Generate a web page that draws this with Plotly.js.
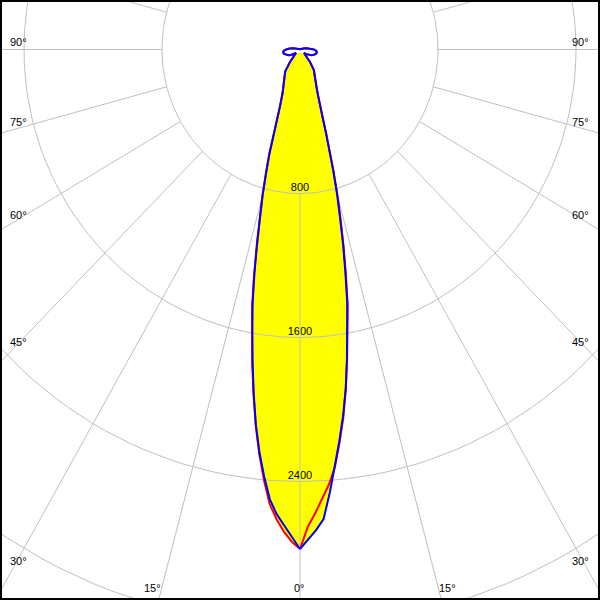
<!DOCTYPE html>
<html><head><meta charset="utf-8">
<script src="https://cdn.plot.ly/plotly-3.0.1.min.js"></script>
<style>html,body{margin:0;padding:0;background:#fff;}#chart{width:600px;height:600px;}</style>
</head><body><div id="chart"></div>
<script>
// ---- data (intensity in cd, gamma in degrees) ----
const gamma = [0,1,2,3,4,5,6,7,8,9,10,11,12,13,14,15,16,17,18,19,20,22.5,25,27.5,30,35,40,45,50,55,60,65,70,75,80,85,90,95,100,105,110,120,135,150,165,180];
// red curve (C0 right half / C180 left half)
const redC0   = [2775,2650,2575,2490,2420,2327,2195,2060,1905,1745,1595,1450,1280,1125,970,840,705,590,490,410,345,270,225,195,175,140,90,45,30,45,60,74,85,95,99,95,80,60,40,20,8,2,0,0,0,0];
const redC180 = [2775,2735,2680,2612,2530,2400,2260,2105,1935,1770,1608,1455,1282,1113,957,838,714,610,490,405,345,265,230,200,180,150,90,45,30,45,60,74,85,95,99,95,80,60,40,20,8,2,0,0,0,0];
// blue curve (C90 right half / C270 left half)
const blueC90  = [2775,2725,2672,2612,2470,2320,2185,2050,1905,1740,1580,1435,1265,1110,957,830,700,590,490,410,345,270,225,195,175,140,90,45,30,45,60,74,85,95,99,95,80,60,40,20,8,2,0,0,0,0];
const blueC270 = [2775,2705,2645,2585,2505,2382,2250,2100,1930,1757,1593,1440,1270,1113,957,838,714,610,490,405,345,265,230,200,180,150,90,45,30,45,60,74,85,95,99,95,80,60,40,20,8,2,0,0,0,0];
const gridRadii = [800,1600,2400,3200];
const gridAngles = [0,15,30,45,60,75,90,105,120,135,150,165,180,195,210,225,240,255,270,285,300,315,330,345];
const radialLabels = ['800','1600','2400'];
const angleLabels = ['90°','75°','60°','45°','30°','15°','0°','15°','30°','45°','60°','75°','90°'];

// ---- geometry helpers ----
const D = Math.PI/180;
function curve(right, left, maxG) {
  const xs = [], ys = [];
  for (let i = 0; i < gamma.length; i++) {
    if (gamma[i] > maxG) break;
    xs.push(right[i]*Math.sin(gamma[i]*D)); ys.push(-right[i]*Math.cos(gamma[i]*D));
  }
  for (let i = gamma.length-1; i >= 0; i--) {
    if (gamma[i] > maxG) continue;
    xs.push(-left[i]*Math.sin(gamma[i]*D)); ys.push(-left[i]*Math.cos(gamma[i]*D));
  }
  return {x: xs, y: ys};
}
const maxR = redC0.map((v,i)=>Math.max(v, blueC90[i]));
const maxL = redC180.map((v,i)=>Math.max(v, blueC270[i]));
const fillPath = curve(maxR, maxL, 50);
const redPath = curve(redC0, redC180, 180);
const bluePath = curve(blueC90, blueC270, 180);

const gx = [], gy = [];
gridRadii.forEach(r => {
  for (let a = 0; a <= 360; a += 2) { gx.push(r*Math.sin(a*D)); gy.push(-r*Math.cos(a*D)); }
  gx.push(null); gy.push(null);
});
gridAngles.forEach(a => {
  gx.push(gridRadii[0]*Math.sin(a*D), 5000*Math.sin(a*D), null);
  gy.push(-gridRadii[0]*Math.cos(a*D), -5000*Math.cos(a*D), null);
});

const font = {family: 'Liberation Sans, Arial, sans-serif', size: 11, color: '#000'};

const traces = [
  {x: fillPath.x, y: fillPath.y, mode: 'lines', fill: 'toself', fillcolor: '#ffff00', line: {width: 0, color: '#ffff00'}, hoverinfo: 'skip'},
  {x: radialLabels.map(()=>0), y: gridRadii.slice(0,3).map(r=>-r), mode: 'text', text: radialLabels, textposition: 'top center', textfont: font, hoverinfo: 'skip'},
  {x: gx, y: gy, mode: 'lines', line: {color: '#c0c0c0', width: 1}, hoverinfo: 'skip'},
  {x: redPath.x, y: redPath.y, mode: 'lines', line: {color: '#ff0000', width: 2}, hoverinfo: 'skip'},
  {x: bluePath.x, y: bluePath.y, mode: 'lines', line: {color: '#0000ff', width: 2}, hoverinfo: 'skip'}
];

const labelPos = [[18,42],[18,122],[18,215],[18,342],[18,561],[152,588],[299,588],[447,588],[580,561],[580,342],[580,215],[580,122],[580,42]];
const annotations = angleLabels.map((t,i)=>({
  text: t, xref: 'paper', yref: 'paper', x: labelPos[i][0]/600, y: 1 - labelPos[i][1]/600,
  xanchor: 'center', yanchor: 'middle', showarrow: false, font: font
}));

const layout = {
  width: 600, height: 600, margin: {l:0, r:0, t:0, b:0},
  paper_bgcolor: '#fff', plot_bgcolor: '#fff', showlegend: false,
  xaxis: {range: [-300/0.1725, 300/0.1725], visible: false, fixedrange: true},
  yaxis: {range: [-550.5/0.18, 49.5/0.18], visible: false, fixedrange: true},
  annotations: annotations,
  shapes: [{type: 'rect', xref: 'paper', yref: 'paper', x0: 1/600, x1: 599/600, y0: 1/600, y1: 599/600, line: {color: '#000', width: 2}, layer: 'above'}]
};
Plotly.newPlot('chart', traces, layout, {staticPlot: true, displayModeBar: false});
</script>
</body></html>
